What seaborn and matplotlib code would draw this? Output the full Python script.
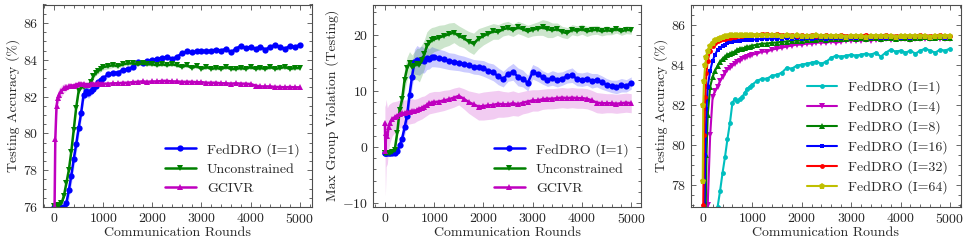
import matplotlib
matplotlib.use("Agg")
import matplotlib.pyplot as plt
import seaborn as sns
import numpy as np
from matplotlib.ticker import MultipleLocator

# communication rounds (x axis)
rounds = [0, 10, 25, 50, 75, 100, 150, 200, 250, 300, 350, 400, 450, 500, 550, 600,
          650, 700, 750, 800, 850, 900, 950, 1000,
          1100, 1200, 1300, 1400, 1500, 1600, 1700, 1800, 1900, 2000,
          2100, 2200, 2300, 2400, 2500, 2600, 2700, 2800, 2900, 3000,
          3100, 3200, 3300, 3400, 3500, 3600, 3700, 3800, 3900, 4000,
          4100, 4200, 4300, 4400, 4500, 4600, 4700, 4800, 4900, 5000]

# panel 1 : testing accuracy
acc_fed1 = [76.0, 76.0, 76.0, 76.0, 76.0, 76.0, 76.0, 76.0, 76.2, 76.9, 77.7, 78.6, 79.4, 80.3, 81.1, 82.1,
            82.3, 82.2, 82.3, 82.4, 82.6, 82.8, 82.9, 83.0,
            83.2, 83.3, 83.3, 83.45, 83.5, 83.6, 83.85, 83.8, 83.95, 84.0,
            84.05, 84.1, 84.15, 84.05, 84.15, 84.35, 84.45, 84.4, 84.45, 84.5,
            84.45, 84.5, 84.55, 84.5, 84.6, 84.4, 84.6, 84.75, 84.65, 84.7,
            84.6, 84.7, 84.55, 84.7, 84.8, 84.7, 84.6, 84.75, 84.7, 84.8]
acc_unc = [76.05, 76.05, 76.05, 76.05, 76.1, 76.1, 76.2, 76.6, 77.3, 78.0, 79.0, 80.2, 81.4, 82.3, 82.5, 82.5,
           82.6, 82.6, 82.8, 83.1, 83.3, 83.4, 83.5, 83.6,
           83.65, 83.7, 83.65, 83.75, 83.8, 83.8, 83.75, 83.8, 83.75, 83.75,
           83.7, 83.75, 83.7, 83.75, 83.7, 83.6, 83.7, 83.55, 83.65, 83.5,
           83.6, 83.5, 83.55, 83.5, 83.6, 83.5, 83.5, 83.55, 83.5, 83.6,
           83.5, 83.55, 83.5, 83.6, 83.5, 83.55, 83.6, 83.5, 83.55, 83.55]
acc_gc = [74.0, 76.0, 79.7, 81.5, 81.9, 82.1, 82.3, 82.45, 82.5, 82.55, 82.6, 82.6, 82.65, 82.7, 82.7, 82.7,
          82.65, 82.65, 82.7, 82.7, 82.7, 82.75, 82.7, 82.7,
          82.7, 82.72, 82.72, 82.75, 82.75, 82.78, 82.8, 82.82, 82.8, 82.82,
          82.82, 82.85, 82.85, 82.82, 82.82, 82.8, 82.8, 82.8, 82.78, 82.78,
          82.75, 82.75, 82.75, 82.72, 82.72, 82.7, 82.72, 82.7, 82.7, 82.68,
          82.6, 82.55, 82.55, 82.55, 82.52, 82.52, 82.5, 82.52, 82.5, 82.5]
# half width of the shaded bands
hw_fed1 = [0.05, 0.05, 0.05, 0.05, 0.05, 0.05, 0.1, 0.2, 0.4, 0.5, 0.5, 0.5, 0.5, 0.5, 0.4, 0.35,
           0.3, 0.3, 0.25, 0.2, 0.2, 0.2, 0.15, 0.15,
           0.15, 0.12, 0.12, 0.12, 0.1, 0.1, 0.12, 0.1, 0.1, 0.1,
           0.1, 0.1, 0.12, 0.1, 0.1, 0.1, 0.1, 0.1, 0.1, 0.1,
           0.1, 0.1, 0.1, 0.1, 0.1, 0.12, 0.1, 0.1, 0.1, 0.1,
           0.1, 0.1, 0.1, 0.1, 0.1, 0.1, 0.1, 0.1, 0.1, 0.1]
hw_unc = [0.05, 0.05, 0.05, 0.05, 0.05, 0.05, 0.1, 0.15, 0.2, 0.2, 0.2, 0.2, 0.2, 0.15, 0.1, 0.1,
          0.1, 0.1, 0.12, 0.15, 0.15, 0.15, 0.15, 0.15,
          0.15, 0.12, 0.1, 0.1, 0.1, 0.08, 0.08, 0.08, 0.08, 0.08,
          0.08, 0.08, 0.08, 0.08, 0.08, 0.08, 0.08, 0.08, 0.08, 0.08,
          0.08, 0.08, 0.08, 0.08, 0.08, 0.08, 0.08, 0.08, 0.08, 0.08,
          0.08, 0.08, 0.08, 0.08, 0.08, 0.08, 0.08, 0.08, 0.08, 0.08]
hw_gc = [0.0, 0.5, 0.8, 0.5, 0.4, 0.35, 0.3, 0.25, 0.2, 0.15, 0.12, 0.1, 0.1, 0.08, 0.08, 0.08,
         0.08, 0.08, 0.08, 0.08, 0.08, 0.08, 0.08, 0.08,
         0.06, 0.06, 0.06, 0.06, 0.06, 0.06, 0.06, 0.06, 0.06, 0.06,
         0.06, 0.06, 0.06, 0.06, 0.06, 0.06, 0.06, 0.06, 0.06, 0.06,
         0.06, 0.06, 0.06, 0.06, 0.06, 0.06, 0.06, 0.06, 0.06, 0.06,
         0.06, 0.06, 0.06, 0.06, 0.06, 0.06, 0.06, 0.06, 0.06, 0.06]

# panel 2 : max group violation
viol_fed = [-1.0, -1.0, -1.0, -1.0, -1.0, -1.0, -1.0, -1.0, -0.8, 0.3, 1.5, 3.5, 5.6, 9.3, 12.5, 15.2,
            15.5, 15.3, 15.6, 15.4, 15.8, 15.7, 16.1, 16.0,
            15.8, 15.6, 15.3, 15.2, 15.0, 14.8, 14.6, 14.3, 14.2, 14.0,
            13.6, 13.3, 12.6, 12.1, 13.0, 13.4, 12.5, 12.2, 11.4, 13.4,
            13.0, 12.4, 12.0, 12.3, 12.0, 12.2, 12.6, 12.8, 12.1, 12.0,
            12.2, 11.8, 11.9, 11.5, 11.1, 10.8, 10.7, 11.0, 10.9, 11.4]
viol_unc = [-1.0, -1.0, -1.0, -1.0, -1.0, -1.0, -0.9, -0.5, 2.5, 6.6, 8.5, 12.0, 14.0, 15.0, 14.2, 14.5,
            14.8, 14.6, 15.5, 16.5, 18.0, 18.6, 19.0, 19.2,
            19.5, 19.8, 20.1, 20.4, 19.8, 19.4, 18.8, 18.4, 19.3, 19.8,
            20.2, 20.6, 20.5, 21.0, 21.2, 20.8, 21.3, 21.0, 20.6, 20.9,
            21.1, 21.3, 21.0, 20.8, 21.0, 20.5, 20.3, 20.9, 20.7, 21.0,
            20.6, 20.8, 20.9, 20.6, 20.8, 20.7, 21.0, 20.6, 20.9, 20.8]
viol_gc = [4.3, -0.8, 2.5, 2.0, 3.5, 4.2, 5.0, 5.3, 5.6, 5.9, 6.0, 6.1, 6.2, 6.3, 6.4, 6.4,
           6.6, 6.8, 7.0, 7.2, 7.5, 7.8, 7.9, 8.0,
           8.1, 8.3, 8.5, 8.8, 9.1, 8.6, 8.0, 7.6, 7.2, 7.3,
           7.4, 7.5, 7.7, 7.6, 7.6, 7.8, 7.6, 7.9, 8.1, 8.3,
           8.3, 8.5, 8.6, 8.6, 8.7, 8.8, 8.7, 8.8, 8.7, 8.7,
           8.6, 8.3, 7.9, 7.8, 7.8, 7.8, 7.7, 7.8, 7.9, 7.8]
hw_viol_fed = [0.2, 0.2, 0.2, 0.3, 0.3, 0.3, 0.3, 0.4, 0.6, 1.0, 1.2, 1.4, 1.6, 1.8, 2.0, 2.2,
               2.6, 2.5, 2.4, 2.2, 2.0, 1.8, 1.8, 1.7,
               1.6, 1.6, 1.5, 1.5, 1.4, 1.4, 1.3, 1.3, 1.3, 1.4,
               1.4, 1.5, 1.5, 1.4, 1.3, 1.5, 1.6, 1.5, 1.4, 1.3,
               1.3, 1.2, 1.2, 1.3, 1.3, 1.2, 1.2, 1.3, 1.2, 1.2,
               1.2, 1.3, 1.2, 1.2, 1.1, 1.1, 1.2, 1.2, 1.1, 1.1]
hw_viol_unc = [0.2, 0.2, 0.2, 0.2, 0.2, 0.2, 0.3, 0.5, 1.0, 1.5, 1.8, 2.0, 2.0, 2.0, 2.2, 2.5,
               2.8, 3.0, 2.8, 2.6, 2.5, 2.4, 2.3, 2.2,
               2.2, 2.0, 2.0, 1.8, 1.8, 1.7, 1.8, 1.9, 1.8, 1.6,
               1.5, 1.4, 1.3, 1.2, 1.2, 1.1, 1.1, 1.1, 1.1, 1.1,
               1.2, 1.4, 1.5, 1.3, 1.1, 1.0, 1.0, 0.9, 0.9, 0.9,
               0.9, 0.8, 0.8, 0.8, 0.8, 0.7, 0.7, 0.7, 0.7, 0.7]
hw_viol_gc = [3.3, 8.0, 6.0, 5.0, 4.0, 3.5, 3.0, 2.8, 2.6, 2.5, 2.4, 2.3, 2.2, 2.2, 2.2, 2.1,
              2.0, 2.0, 2.0, 1.9, 1.9, 1.9, 1.9, 1.9,
              1.8, 1.8, 1.7, 1.7, 1.6, 1.8, 2.0, 2.2, 2.4, 2.5,
              2.5, 2.5, 2.4, 2.3, 2.2, 2.2, 2.1, 2.0, 2.0, 1.9,
              1.9, 1.8, 1.8, 1.8, 1.8, 1.8, 1.8, 1.8, 1.8, 1.8,
              1.8, 1.8, 1.8, 1.8, 1.7, 1.7, 1.7, 1.7, 1.7, 1.7]

# panel 3 : accuracy vs local steps I
acc_i4 = [70.0, 70.0, 70.0, 71.0, 73.0, 77.0, 80.5, 82.4, 82.7, 82.9, 83.2, 83.4, 83.6, 83.75, 83.85, 83.95,
          84.05, 84.15, 84.2, 84.3, 84.35, 84.4, 84.45, 84.5,
          84.55, 84.65, 84.65, 84.75, 84.8, 84.85, 84.9, 84.95, 85.0, 85.0,
          85.05, 85.05, 85.1, 85.1, 85.1, 85.15, 85.1, 85.15, 85.2, 85.2,
          85.2, 85.2, 85.25, 85.2, 85.25, 85.25, 85.3, 85.25, 85.3, 85.3,
          85.3, 85.25, 85.3, 85.3, 85.3, 85.3, 85.35, 85.3, 85.3, 85.3]
acc_i8 = [70.0, 71.0, 72.0, 75.0, 79.5, 81.5, 82.9, 83.4, 83.7, 83.95, 84.15, 84.3, 84.4, 84.5, 84.55, 84.6,
          84.65, 84.75, 84.8, 84.8, 84.85, 84.9, 84.9, 84.95,
          85.0, 85.05, 85.05, 85.1, 85.1, 85.15, 85.15, 85.2, 85.2, 85.2,
          85.25, 85.25, 85.25, 85.3, 85.25, 85.3, 85.3, 85.3, 85.3, 85.35,
          85.3, 85.35, 85.3, 85.35, 85.35, 85.3, 85.35, 85.35, 85.3, 85.35,
          85.35, 85.3, 85.35, 85.35, 85.4, 85.35, 85.35, 85.4, 85.35, 85.35]
acc_i16 = [70.0, 72.0, 75.0, 79.5, 81.8, 82.9, 83.7, 84.2, 84.5, 84.75, 84.85, 84.95, 85.0, 85.1, 85.12, 85.15,
           85.18, 85.2, 85.2, 85.22, 85.25, 85.25, 85.25, 85.25,
           85.25, 85.3, 85.3, 85.3, 85.3, 85.3, 85.35, 85.3, 85.35, 85.3,
           85.35, 85.3, 85.35, 85.35, 85.3, 85.35, 85.35, 85.35, 85.35, 85.35,
           85.35, 85.4, 85.35, 85.35, 85.4, 85.35, 85.35, 85.4, 85.4, 85.35,
           85.4, 85.35, 85.4, 85.4, 85.45, 85.4, 85.4, 85.4, 85.35, 85.4]
acc_i32 = [72.0, 77.0, 80.5, 82.4, 83.6, 84.2, 84.7, 84.95, 85.1, 85.2, 85.25, 85.3, 85.3, 85.35, 85.35, 85.4,
           85.4, 85.45, 85.45, 85.45, 85.5, 85.5, 85.5, 85.5,
           85.5, 85.55, 85.55, 85.5, 85.55, 85.5, 85.5, 85.5, 85.45, 85.5,
           85.45, 85.5, 85.45, 85.45, 85.5, 85.45, 85.45, 85.5, 85.45, 85.45,
           85.45, 85.45, 85.5, 85.45, 85.45, 85.45, 85.5, 85.45, 85.45, 85.45,
           85.45, 85.45, 85.45, 85.5, 85.45, 85.45, 85.45, 85.5, 85.45, 85.45]
acc_i64 = [78.2, 82.0, 83.2, 84.0, 84.4, 84.7, 84.95, 85.1, 85.25, 85.3, 85.35, 85.4, 85.45, 85.45, 85.5, 85.5,
           85.5, 85.5, 85.5, 85.5, 85.5, 85.5, 85.5, 85.5,
           85.5, 85.5, 85.5, 85.5, 85.5, 85.45, 85.5, 85.45, 85.5, 85.45,
           85.45, 85.45, 85.5, 85.45, 85.45, 85.45, 85.45, 85.45, 85.4, 85.45,
           85.45, 85.45, 85.4, 85.45, 85.45, 85.45, 85.45, 85.45, 85.4, 85.45,
           85.45, 85.45, 85.45, 85.45, 85.45, 85.4, 85.45, 85.45, 85.45, 85.45]

# colours (matplotlib classic codes)
BLUE, GREEN, MAGENTA = "#0000ff", "#008000", "#bf00bf"
CYAN, RED, YELLOW = "#00bfbf", "#ff0000", "#bfbf00"

# style
sns.set_theme(style="ticks")
plt.rcParams["font.family"] = ["cmr10", "DejaVu Serif"]
plt.rcParams["mathtext.fontset"] = "cm"
plt.rcParams["axes.formatter.use_mathtext"] = True
plt.rcParams["font.size"] = 10
plt.rcParams["axes.edgecolor"] = "0.3"
plt.rcParams["axes.linewidth"] = 0.8


def style_axes(ax, xmin, xmax, ymin, ymax, ymaj, ymin_step):
    ax.set_xlim(xmin, xmax)
    ax.set_ylim(ymin, ymax)
    ax.xaxis.set_major_locator(MultipleLocator(1000))
    ax.xaxis.set_minor_locator(MultipleLocator(200))
    ax.yaxis.set_major_locator(MultipleLocator(ymaj))
    ax.yaxis.set_minor_locator(MultipleLocator(ymin_step))
    ax.tick_params(which="both", direction="in", top=True, right=True,
                   labelsize=10, color="0.3", width=0.6)
    ax.tick_params(which="major", length=3.5)
    ax.tick_params(which="minor", length=2)
    ax.set_xlabel("Communication Rounds", fontsize=10, labelpad=1)


def draw(ax, y, hw, color, marker, label, ms=4.5, lw=1.8):
    y = np.array(y)
    if hw is not None:
        hw = np.array(hw)
        ax.fill_between(rounds, y - hw, y + hw, color=color, alpha=0.2, linewidth=0)
    sns.lineplot(x=rounds, y=y, ax=ax, color=color, marker=marker, markersize=ms,
                 markeredgewidth=0, linewidth=lw, label=label, errorbar=None)


fig = plt.figure(figsize=(9.69, 2.5), dpi=100)
ax1 = fig.add_axes([0.0444, 0.172, 0.2776, 0.81])
ax2 = fig.add_axes([0.385, 0.172, 0.2766, 0.81])
ax3 = fig.add_axes([0.713, 0.172, 0.2786, 0.81])

# panel 1
draw(ax1, acc_fed1, hw_fed1, BLUE, "o", "FedDRO (I=1)")
draw(ax1, acc_unc, hw_unc, GREEN, "v", "Unconstrained")
draw(ax1, acc_gc, hw_gc, MAGENTA, "^", "GCIVR")
style_axes(ax1, -225, 5250, 76, 87, 2, 0.5)
ax1.set_ylabel("Testing Accuracy (%)", fontsize=10, labelpad=2)

# panel 2
draw(ax2, viol_fed, hw_viol_fed, BLUE, "o", "FedDRO (I=1)")
draw(ax2, viol_unc, hw_viol_unc, GREEN, "v", "Unconstrained")
draw(ax2, viol_gc, hw_viol_gc, MAGENTA, "^", "GCIVR")
style_axes(ax2, -240, 5200, -10.7, 25.4, 10, 2)
ax2.set_ylabel("Max Group Violation (Testing)", fontsize=10, labelpad=2)

# panel 3
draw(ax3, acc_fed1, None, CYAN, "o", "FedDRO (I=1)", ms=3.5, lw=1.5)
draw(ax3, acc_i4, None, MAGENTA, "v", "FedDRO (I=4)", ms=4.5, lw=1.5)
draw(ax3, acc_i8, None, GREEN, "^", "FedDRO (I=8)", ms=4.5, lw=1.5)
draw(ax3, acc_i16, None, BLUE, "s", "FedDRO (I=16)", ms=3.5, lw=1.5)
draw(ax3, acc_i32, None, RED, "o", "FedDRO (I=32)", ms=3.5, lw=1.5)
draw(ax3, acc_i64, None, YELLOW, "p", "FedDRO (I=64)", ms=4.5, lw=1.5)
style_axes(ax3, -240, 5220, 76.9, 87, 2, 0.5)
ax3.set_ylabel("Testing Accuracy (%)", fontsize=10, labelpad=2)

for ax in (ax1, ax2, ax3):
    ax.legend(loc="lower right", frameon=False, fontsize=10, handlelength=2.2,
              handletextpad=0.8, labelspacing=0.45)

fig.savefig("out.png", dpi=100)
